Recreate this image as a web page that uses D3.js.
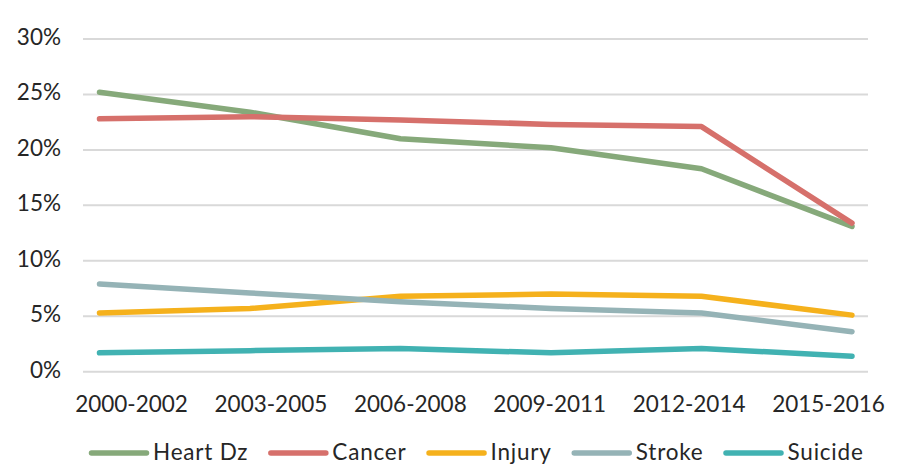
<!DOCTYPE html>
<html>
<head>
<meta charset="utf-8">
<script src="https://cdn.jsdelivr.net/npm/d3@7"></script>
<style>
  body { margin: 0; background: #fff; }
  text { font-family: Lato, "Open Sans", sans-serif; fill: #262626; }
</style>
</head>
<body>
<div id="chart"></div>
<script>
var periods = ["2000-2002", "2003-2005", "2006-2008", "2009-2011", "2012-2014", "2015-2016"];
var yTicks = [0, 0.05, 0.10, 0.15, 0.20, 0.25, 0.30];

var heart   = [0.252, 0.234, 0.210, 0.202, 0.183, 0.131];
var cancer  = [0.228, 0.230, 0.227, 0.223, 0.221, 0.134];
var injury  = [0.053, 0.057, 0.068, 0.070, 0.068, 0.051];
var stroke  = [0.079, 0.071, 0.063, 0.057, 0.053, 0.036];
var suicide = [0.017, 0.019, 0.021, 0.017, 0.021, 0.014];

var seriesNames = ["Heart Dz", "Cancer", "Injury", "Stroke", "Suicide"];
var seriesVals = [heart, cancer, injury, stroke, suicide];
var colors = ["#86a97a", "#d6706b", "#f5b11c", "#95b3b6", "#41b2b2"];

var W = 899, H = 464;
var fontSize = 22.5;

var svg = d3.select("#chart")
    .append("svg")
    .attr("width", W)
    .attr("height", H);

var xScale = d3.scalePoint()
    .domain(periods)
    .range([99.5, 852]);

// category labels sit a bit to the right of the data points in the original
var xLabelScale = d3.scalePoint()
    .domain(periods)
    .range([131, 828]);

var yScale = d3.scaleLinear()
    .domain([0, 0.30])
    .range([371.7, 39]);

// gridlines
svg.append("g")
    .selectAll("line")
    .data(yTicks)
    .enter()
    .append("line")
    .attr("x1", 83)
    .attr("x2", 868)
    .attr("y1", function(d) { return yScale(d); })
    .attr("y2", function(d) { return yScale(d); })
    .attr("stroke", "#d9d9d9")
    .attr("stroke-width", 2);

// y labels
svg.append("g")
    .selectAll("text")
    .data(yTicks)
    .enter()
    .append("text")
    .attr("x", 61)
    .attr("y", function(d) { return yScale(d) + 6; })
    .attr("text-anchor", "end")
    .attr("font-size", fontSize)
    .text(d3.format(".0%"));

// x labels
var xAxis = svg.append("g")
    .attr("transform", "translate(0,412)")
    .call(d3.axisBottom(xLabelScale).tickSize(0).tickPadding(0));
xAxis.select(".domain").remove();
xAxis.selectAll("text")
    .attr("dy", 0)
    .attr("y", 0)
    .attr("font-size", fontSize)
    .style("font-family", "Lato, 'Open Sans', sans-serif")
    .attr("fill", "#262626");

var line = d3.line()
    .x(function(d, i) { return xScale(periods[i]); })
    .y(function(d) { return yScale(d); });

svg.append("g")
    .selectAll("path")
    .data(seriesVals)
    .enter()
    .append("path")
    .attr("d", function(d) { return line(d); })
    .attr("fill", "none")
    .attr("stroke", function(d, i) { return colors[i]; })
    .attr("stroke-width", 5.5)
    .attr("stroke-linecap", "round")
    .attr("stroke-linejoin", "round");

// legend
var legend = svg.append("g").attr("class", "legend");
var lx = 89;
seriesNames.forEach(function(name, i) {
    legend.append("line")
        .attr("x1", lx + 2.5)
        .attr("x2", lx + 57.5)
        .attr("y1", 453)
        .attr("y2", 453)
        .attr("stroke", colors[i])
        .attr("stroke-width", 5.5)
        .attr("stroke-linecap", "round");
    var t = legend.append("text")
        .attr("x", lx + 64)
        .attr("y", 460)
        .attr("font-size", fontSize)
        .style("letter-spacing", "0.8px")
        .text(name);
    lx = lx + 64 + t.node().getComputedTextLength() + 20;
});
</script>
</body>
</html>
